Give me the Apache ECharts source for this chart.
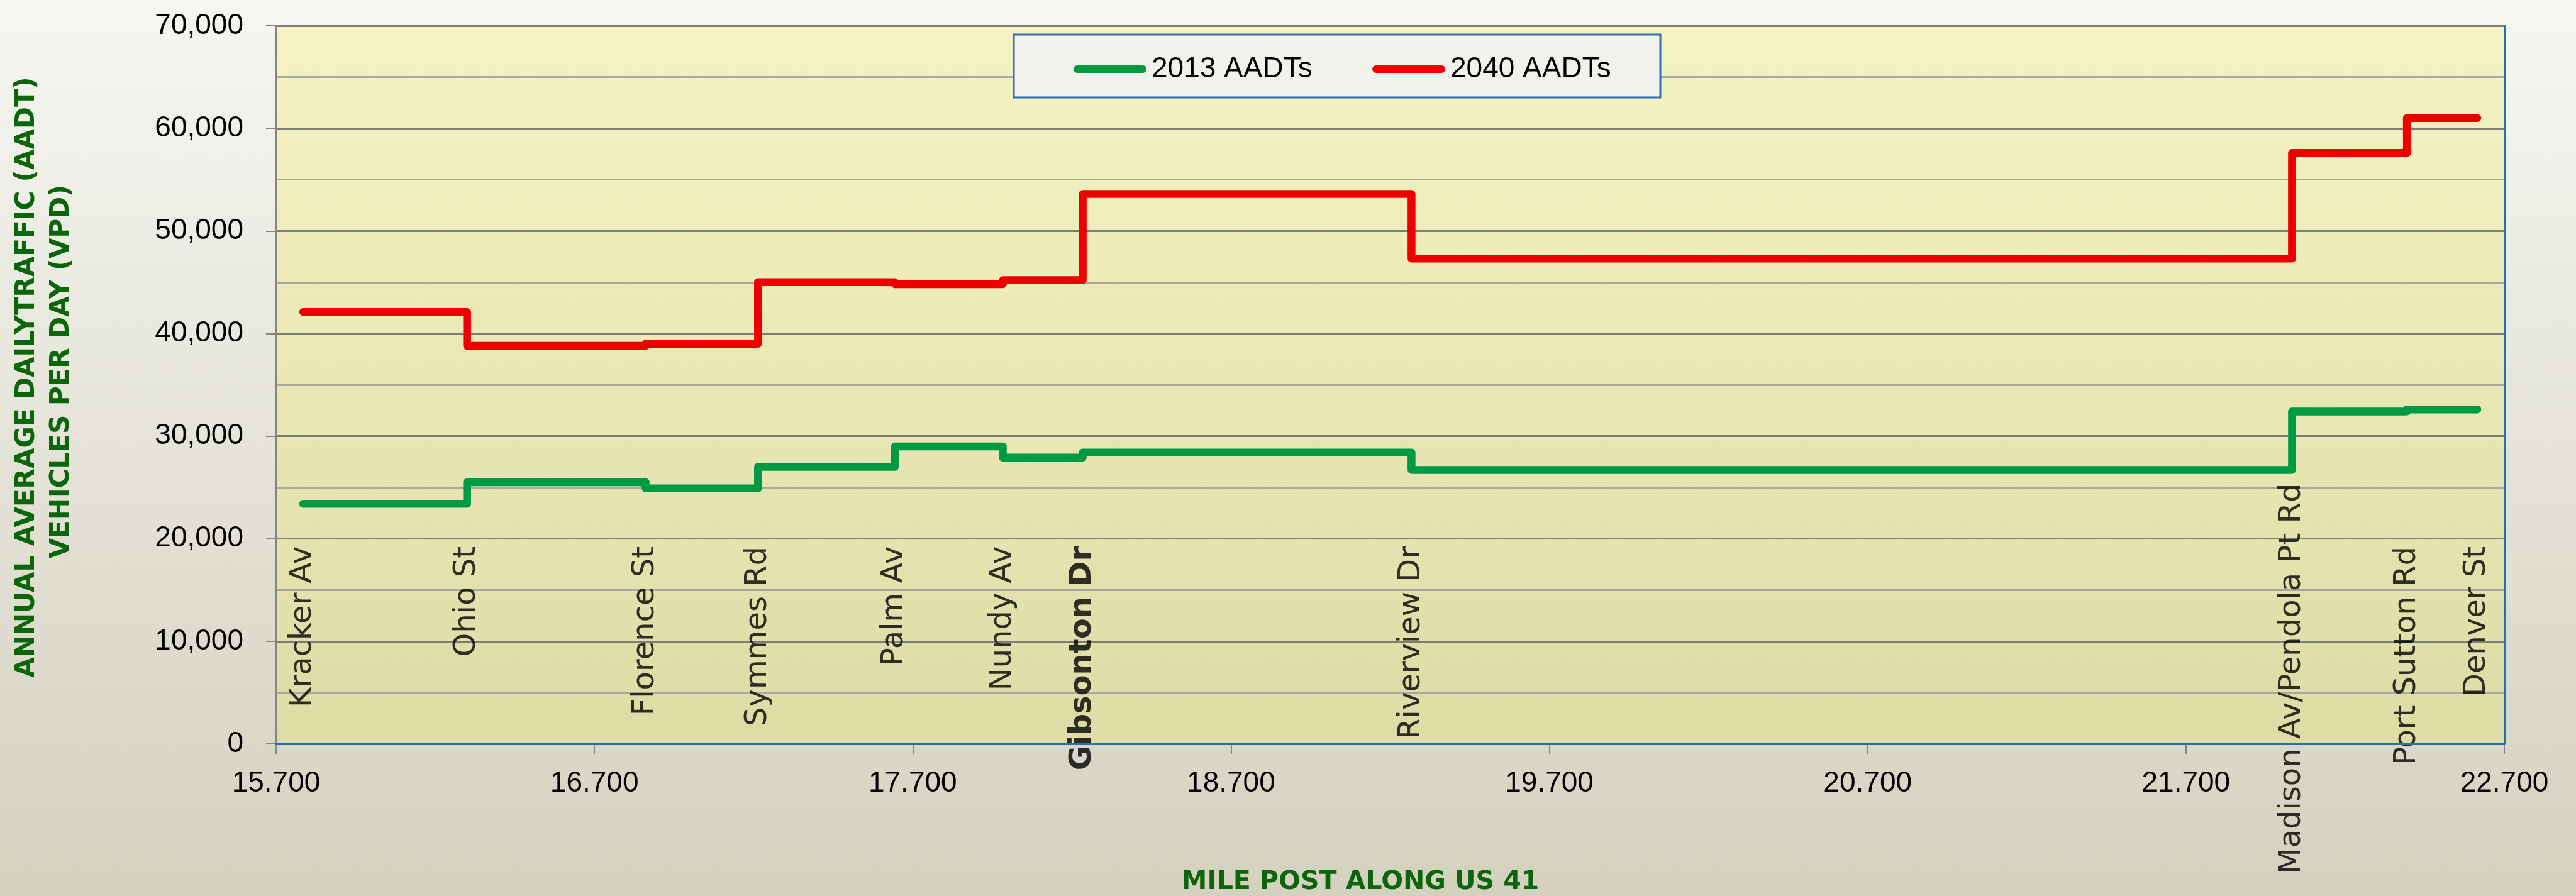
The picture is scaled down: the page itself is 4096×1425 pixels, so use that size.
<!DOCTYPE html>
<html>
<head>
<meta charset="utf-8">
<script src="https://cdn.jsdelivr.net/npm/echarts@6/dist/echarts.min.js"></script>
<style>
  html, body { margin: 0; padding: 0; background: #fff; }
  #chart { width: 4096px; height: 1425px; }
</style>
</head>
<body>
<div id="chart"></div>
<script>
// ---------------- DATA ----------------
const seriesNames = ['2013 AADTs', '2040 AADTs'];
const streetNames = ['Kracker Av', 'Ohio St', 'Florence St', 'Symmes Rd', 'Palm Av', 'Nundy Av',
  'Gibsonton Dr', 'Riverview Dr', 'Madison Av/Pendola Pt Rd', 'Port Sutton Rd', 'Denver St'];
// mile post where each segment starts (last entry = end of corridor, Denver St)
const mileposts = [15.785, 16.300, 16.861, 17.214, 17.644, 17.983, 18.234, 19.267, 22.033, 22.394, 22.615];
// AADT of each segment (segment i runs from mileposts[i] to mileposts[i+1])
const aadt2013 = [23400, 25500, 24900, 27000, 29000, 27900, 28400, 26700, 32400, 32600];
const aadt2040 = [42100, 38800, 39000, 45000, 44800, 45200, 53600, 47300, 57600, 61000];
const xTickValues = [15.7, 16.7, 17.7, 18.7, 19.7, 20.7, 21.7, 22.7];
const yAxisMin = 0, yAxisMax = 70000, yAxisStep = 10000;
const yTitleLines = ['ANNUAL AVERAGE DAILYTRAFFIC (AADT)', 'VEHICLES PER DAY (VPD)'];
const xTitle = 'MILE POST ALONG US 41';
const boldStreet = 'Gibsonton Dr';

// ---------------- STYLE / LAYOUT ----------------
const LABEL_TOP = 19250;      // value at which street labels end (top)
const MADISON_TOP = 25400;
const GREEN = '#009a44', RED = '#ee0000', BLUE = '#2a6db2', TITLE_GREEN = '#0b660b';
const AXIS_FONT = '"Liberation Sans", Arial, sans-serif';
const LABEL_FONT = '"DejaVu Sans", Verdana, sans-serif';

function stepData(vals) {
  return mileposts.map((m, i) => [m, vals[Math.min(i, vals.length - 1)]]);
}
const labelData = streetNames.map((n, i) => {
  const d = { name: n, value: [mileposts[i], n.indexOf('Madison') === 0 ? MADISON_TOP : LABEL_TOP] };
  if (n === boldStreet) d.label = { fontWeight: 'bold' };
  return d;
});

const capsule = 'path://M6,0 L110,0 A6,6 0 0 1 110,12 L6,12 A6,6 0 0 1 6,0 Z';

const chart = echarts.init(document.getElementById('chart'));
const option = {
  animation: false,
  backgroundColor: { type: 'linear', x: 0, y: 0, x2: 0, y2: 1,
    colorStops: [{ offset: 0, color: '#f6f6f2' }, { offset: 1, color: '#d4d1bf' }] },
  grid: {
    left: 439, right: 114, top: 41, bottom: 242, show: true, borderWidth: 0,
    backgroundColor: { type: 'linear', x: 0, y: 0, x2: 0, y2: 1,
      colorStops: [{ offset: 0, color: '#f4f3c4' }, { offset: 1, color: '#dedca5' }] }
  },
  xAxis: [{
    type: 'value', min: 15.7, max: 22.7, position: 'bottom',
    axisLine: { show: true, lineStyle: { color: '#7f7f7f', width: 3 } },
    axisTick: { show: true, customValues: xTickValues, length: 16, lineStyle: { color: '#888888', width: 2 } },
    axisLabel: { customValues: xTickValues, formatter: v => v.toFixed(3), margin: 40,
      fontFamily: AXIS_FONT, fontSize: 46, color: '#000' },
    splitLine: { show: false }
  }, {
    type: 'value', min: 15.7, max: 22.7, position: 'top', z: 5,
    axisLine: { show: true, lineStyle: { color: BLUE, width: 3 } },
    axisTick: { show: false }, axisLabel: { show: false }, splitLine: { show: false }
  }],
  yAxis: [{
    type: 'value', min: yAxisMin, max: yAxisMax, interval: yAxisStep, position: 'left',
    axisLine: { show: true, lineStyle: { color: '#858585', width: 3 } },
    axisTick: { show: true, length: 16, lineStyle: { color: '#858585', width: 2 } },
    axisLabel: { formatter: v => v.toLocaleString('en-US'), margin: 52,
      fontFamily: AXIS_FONT, fontSize: 46, color: '#000' },
    splitLine: { show: true, lineStyle: { color: '#7d7d78', width: 3 } },
    minorTick: { show: false, splitNumber: 2 },
    minorSplitLine: { show: true, lineStyle: { color: '#a9a89c', width: 3 } }
  }, {
    type: 'value', min: yAxisMin, max: yAxisMax, position: 'right', z: 5,
    axisLine: { show: true, lineStyle: { color: BLUE, width: 3 } },
    axisTick: { show: false }, axisLabel: { show: false }, splitLine: { show: false }
  }],
  legend: [{
    data: [seriesNames[0]], left: 1702, top: 80, z: 12,
    icon: capsule, itemWidth: 116, itemHeight: 13, itemGap: 0,
    textStyle: { fontFamily: AXIS_FONT, fontSize: 46, color: '#000', lineHeight: 50, padding: [0, 0, 0, 3] }
  }, {
    data: [seriesNames[1]], left: 2177, top: 80, z: 12,
    icon: capsule, itemWidth: 116, itemHeight: 13, itemGap: 0,
    textStyle: { fontFamily: AXIS_FONT, fontSize: 46, color: '#000', lineHeight: 50, padding: [0, 0, 0, 3] }
  }],
  graphic: [
    { type: 'rect', z: 10, shape: { x: 1612, y: 55, width: 1028, height: 100 },
      style: { fill: '#f1f1ed', stroke: BLUE, lineWidth: 3 } },
    { type: 'text', z: 10, x: 43, y: 600, rotation: Math.PI / 2,
      style: { text: yTitleLines[0], font: 'bold 42px "DejaVu Sans", sans-serif', fill: TITLE_GREEN,
        align: 'center', verticalAlign: 'middle' } },
    { type: 'text', z: 10, x: 98, y: 591, rotation: Math.PI / 2,
      style: { text: yTitleLines[1], font: 'bold 42px "DejaVu Sans", sans-serif', fill: TITLE_GREEN,
        align: 'center', verticalAlign: 'middle' } },
    { type: 'text', z: 10, x: 2163, y: 1403,
      style: { text: xTitle, font: 'bold 41px "DejaVu Sans", sans-serif', fill: TITLE_GREEN,
        align: 'center', verticalAlign: 'middle' } }
  ],
  series: [{
    name: seriesNames[0], type: 'line', step: 'end', data: stepData(aadt2013),
    showSymbol: false, symbol: 'none', color: GREEN, z: 3,
    lineStyle: { color: GREEN, width: 12.5, cap: 'round', join: 'round' }
  }, {
    name: seriesNames[1], type: 'line', step: 'end', data: stepData(aadt2040),
    showSymbol: false, symbol: 'none', color: RED, z: 3,
    lineStyle: { color: RED, width: 12.5, cap: 'round', join: 'round' }
  }, {
    name: 'streets', type: 'scatter', data: labelData, symbolSize: 1, clip: false, z: 4,
    itemStyle: { color: 'rgba(0,0,0,0)' }, silent: true,
    label: {
      show: true, position: 'inside', rotate: 90, align: 'right', verticalAlign: 'middle',
      formatter: p => p.name, fontFamily: LABEL_FONT, fontSize: 48, color: '#000'
    },
    labelLayout: { hideOverlap: false }
  }]
};
chart.setOption(option);
</script>
</body>
</html>
